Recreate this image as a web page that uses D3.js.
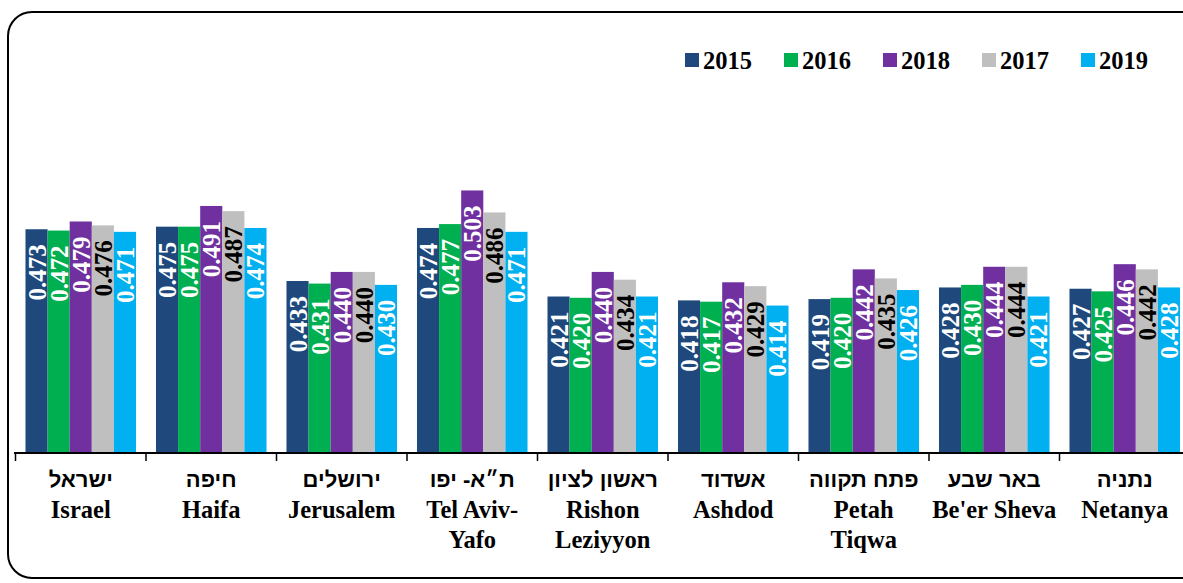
<!DOCTYPE html>
<html>
<head>
<meta charset="utf-8">
<script src="https://cdn.jsdelivr.net/npm/d3@7"></script>
<style>
body{margin:0;background:#fff;}
svg{display:block;font-family:"Liberation Serif","Times New Roman",serif;}
.he{font-family:"Liberation Sans","DejaVu Sans",sans-serif;}
</style>
</head>
<body>
<div id="container"></div>
<script>
// categories (hebrew + english lines)
let citiesHe=['ישראל','חיפה','ירושלים','ת״א- יפו','ראשון לציון','אשדוד','פתח תקווה','באר שבע','נתניה'];
let citiesEn=[['Israel'],['Haifa'],['Jerusalem'],['Tel Aviv-','Yafo'],['Rishon','Leziyyon'],['Ashdod'],['Petah','Tiqwa'],["Be'er Sheva"],['Netanya']];

// series, in legend order
let years=['2015','2016','2018','2017','2019'];
let v2015=[0.473,0.475,0.433,0.474,0.421,0.418,0.419,0.428,0.427];
let v2016=[0.472,0.475,0.431,0.477,0.420,0.417,0.420,0.430,0.425];
let v2018=[0.479,0.491,0.440,0.503,0.440,0.432,0.442,0.444,0.446];
let v2017=[0.476,0.487,0.440,0.486,0.434,0.429,0.435,0.444,0.442];
let v2019=[0.471,0.474,0.430,0.471,0.421,0.414,0.426,0.421,0.428];
let seriesValues=[v2015,v2016,v2018,v2017,v2019];
let colors=['#1f497d','#00b050','#7030a0','#bfbfbf','#00b0f0'];
let labelColors=['#fff','#fff','#fff','#000','#fff'];

let width=1183,height=583;
let svg=d3.select('#container').append('svg').attr('width',width).attr('height',height);

// rounded frame, runs off the right edge
svg.append('rect').attr('x',8).attr('y',12).attr('width',1200).attr('height',566)
    .attr('rx',24).attr('ry',24).attr('fill','none').attr('stroke','#000').attr('stroke-width',2);

let pad=0.153;
let x=d3.scaleBand().domain(citiesHe).range([15.5,1190]).paddingInner(pad).paddingOuter(pad/2);
let xs=d3.scaleBand().domain(years).range([0,x.bandwidth()]);
let y=d3.scaleLinear().domain([0.3,0.6]).range([453,65]);

let rows=citiesHe.map((c,i)=>({city:c,vals:years.map((yr,j)=>({year:yr,j:j,v:seriesValues[j][i]}))}));

let groups=svg.selectAll('g.city').data(rows).enter().append('g')
    .attr('class','city').attr('transform',d=>'translate('+x(d.city)+',0)');

groups.selectAll('rect').data(d=>d.vals).enter().append('rect')
    .attr('x',d=>xs(d.year)).attr('y',d=>y(d.v))
    .attr('width',xs.bandwidth()).attr('height',d=>y(0.3)-y(d.v))
    .attr('fill',d=>colors[d.j]);

// value labels, rotated inside the bars
groups.selectAll('text.val').data(d=>d.vals).enter().append('text')
    .attr('class','val')
    .attr('transform',d=>'translate('+(xs(d.year)+xs.bandwidth()/2)+','+(y(d.v)+15)+') rotate(-90)')
    .attr('text-anchor','end').attr('dy','0.36em')
    .attr('font-size','25px').attr('font-weight','bold')
    .attr('fill',d=>labelColors[d.j])
    .text(d=>d.v.toFixed(3));

// axis line + ticks at category boundaries
svg.append('line').attr('x1',14).attr('x2',width).attr('y1',453).attr('y2',453)
    .attr('stroke','#000').attr('stroke-width',2);
let step=x.step();
citiesHe.forEach((c,i)=>{
    let tx=x(c)-step*pad/2;
    svg.append('line').attr('x1',tx).attr('x2',tx).attr('y1',453).attr('y2',461)
        .attr('stroke','#000').attr('stroke-width',1.5);
});

// category labels
citiesHe.forEach((c,i)=>{
    let cx=x(c)+x.bandwidth()/2;
    svg.append('text').attr('class','he').attr('x',cx).attr('y',487).attr('text-anchor','middle')
        .attr('font-size','22px').attr('font-weight','bold').text(c);
    citiesEn[i].forEach((line,k)=>{
        svg.append('text').attr('x',cx).attr('y',518+k*30).attr('text-anchor','middle')
            .attr('font-size','24.5px').attr('font-weight','bold').text(line);
    });
});

// legend
let legend=svg.append('g');
years.forEach((yr,i)=>{
    let lx=685+i*99;
    legend.append('rect').attr('x',lx).attr('y',53).attr('width',14).attr('height',14).attr('fill',colors[i]);
    legend.append('text').attr('x',lx+18).attr('y',69).attr('font-size','24.5px').attr('font-weight','bold').text(yr);
});
</script>
</body>
</html>
